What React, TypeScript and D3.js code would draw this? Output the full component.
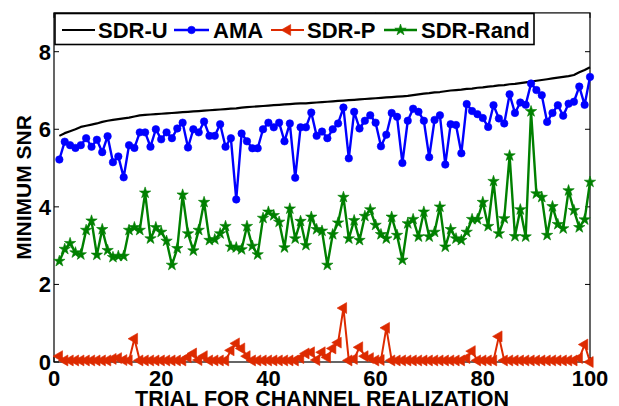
import React from "react";
import * as d3 from "d3";

const trials: number[] = d3.range(1, 101);

const sdrU: number[] = [
  5.83, 5.90, 5.95, 6.00, 6.06, 6.09, 6.12, 6.15, 6.19, 6.22,
  6.24, 6.26, 6.28, 6.30, 6.33, 6.36, 6.37, 6.38, 6.39, 6.40,
  6.41, 6.42, 6.43, 6.44, 6.45, 6.46, 6.47, 6.48, 6.49, 6.50,
  6.51, 6.52, 6.53, 6.54, 6.56, 6.57, 6.58, 6.59, 6.60, 6.61,
  6.62, 6.63, 6.64, 6.65, 6.66, 6.67, 6.67, 6.68, 6.69, 6.70,
  6.71, 6.72, 6.73, 6.74, 6.75, 6.76, 6.77, 6.78, 6.79, 6.80,
  6.81, 6.82, 6.83, 6.84, 6.85, 6.86, 6.88, 6.90, 6.92, 6.93,
  6.95, 6.96, 6.98, 7.00, 7.01, 7.02, 7.04, 7.05, 7.07, 7.08,
  7.10, 7.11, 7.13, 7.14, 7.16, 7.17, 7.19, 7.21, 7.23, 7.25,
  7.27, 7.29, 7.31, 7.33, 7.35, 7.37, 7.40, 7.47, 7.53, 7.60,
];

const ama: number[] = [
  5.22, 5.68, 5.59, 5.52, 5.59, 5.77, 5.55, 5.73, 5.41, 5.82,
  5.15, 5.30, 4.76, 5.59, 5.52, 5.92, 5.92, 5.55, 6.00, 5.74,
  5.92, 5.77, 6.02, 6.17, 5.53, 6.00, 5.92, 6.20, 5.83, 5.83,
  6.13, 5.55, 5.77, 4.19, 5.89, 5.69, 5.51, 5.51, 6.00, 6.17,
  6.05, 6.17, 5.69, 6.15, 4.75, 6.05, 6.05, 6.43, 5.83, 5.94,
  5.77, 6.00, 6.15, 6.56, 5.25, 6.45, 6.02, 6.22, 6.36, 6.17,
  5.56, 5.86, 6.42, 6.32, 5.13, 6.22, 6.53, 6.45, 6.22, 5.28,
  6.24, 6.36, 5.09, 6.13, 6.11, 5.38, 6.65, 6.47, 6.39, 6.29,
  6.06, 6.62, 6.28, 6.15, 6.90, 6.42, 6.69, 6.63, 7.18, 7.01,
  6.88, 6.19, 6.42, 6.62, 6.35, 6.66, 6.71, 7.10, 6.63, 7.35,
];

const sdrP: number[] = [
  0.15, 0.04, 0.04, 0.04, 0.04, 0.04, 0.04, 0.04, 0.04, 0.04,
  0.08, 0.10, 0.05, 0.04, 0.60, 0.04, 0.04, 0.04, 0.04, 0.04,
  0.04, 0.04, 0.04, 0.04, 0.12, 0.22, 0.05, 0.15, 0.04, 0.04,
  0.04, 0.04, 0.30, 0.48, 0.35, 0.15, 0.04, 0.04, 0.04, 0.04,
  0.04, 0.04, 0.04, 0.04, 0.04, 0.10, 0.22, 0.25, 0.05, 0.25,
  0.12, 0.35, 0.50, 1.39, 0.04, 0.08, 0.38, 0.15, 0.10, 0.04,
  0.05, 0.88, 0.04, 0.04, 0.04, 0.04, 0.04, 0.04, 0.04, 0.04,
  0.04, 0.04, 0.04, 0.04, 0.04, 0.04, 0.10, 0.28, 0.04, 0.04,
  0.04, 0.04, 0.66, 0.04, 0.04, 0.04, 0.04, 0.04, 0.04, 0.04,
  0.04, 0.04, 0.04, 0.04, 0.04, 0.04, 0.04, 0.10, 0.45, 0.00,
];

const sdrRand: number[] = [
  2.60, 2.91, 3.06, 2.82, 2.77, 3.40, 3.64, 2.76, 3.42, 2.88,
  2.70, 2.73, 2.73, 3.40, 3.47, 3.40, 4.36, 3.18, 3.47, 3.35,
  3.12, 2.50, 2.93, 4.31, 3.31, 2.87, 3.40, 4.12, 3.14, 3.16,
  3.31, 3.50, 2.97, 2.95, 2.90, 3.50, 2.99, 2.77, 3.71, 3.87,
  3.78, 3.61, 2.95, 3.95, 3.18, 3.63, 3.01, 3.74, 3.42, 3.38,
  2.50, 3.29, 3.59, 4.25, 3.18, 3.65, 3.14, 3.76, 3.93, 3.53,
  3.29, 3.18, 3.74, 3.27, 2.63, 3.57, 3.68, 3.23, 3.87, 3.23,
  3.35, 4.00, 2.97, 3.42, 3.18, 3.14, 3.35, 3.68, 3.68, 4.12,
  3.50, 4.66, 3.31, 3.70, 5.32, 3.24, 3.93, 3.23, 6.46, 4.34,
  4.25, 3.27, 4.01, 3.55, 3.44, 4.42, 3.91, 3.47, 3.67, 4.64,
];

const xTicks: number[] = [0, 20, 40, 60, 80, 100];
const yTicks: number[] = [0, 2, 4, 6, 8];
const seriesNames: string[] = ["SDR-U", "AMA", "SDR-P", "SDR-Rand"];
const xLabel = "TRIAL FOR CHANNEL REALIZATION";
const yLabel = "MINIMUM SNR";

const W = 619;
const H = 406;
const L = 54;
const R = 590;
const T = 12.9;
const B = 362;
const FONT = "'Liberation Sans', Arial, Helvetica, sans-serif";

type Marker = "none" | "circle" | "triangle" | "star";

export default function App() {
  const x = d3.scaleLinear().domain([0, 100]).range([L, R]);
  const y = d3.scaleLinear().domain([0, 9]).range([B, T]);

  const line = d3
    .line<number>()
    .x((_, i) => x(trials[i]))
    .y((d) => y(d));

  const series: { name: string; data: number[]; color: string; width: number; marker: Marker }[] = [
    { name: seriesNames[0], data: sdrU, color: "#000000", width: 2.2, marker: "none" },
    { name: seriesNames[1], data: ama, color: "#0000ff", width: 2.4, marker: "circle" },
    { name: seriesNames[2], data: sdrP, color: "#dd2a00", width: 2.0, marker: "triangle" },
    { name: seriesNames[3], data: sdrRand, color: "#008000", width: 2.4, marker: "star" },
  ];

  const symPath = (m: Marker) => {
    if (m === "circle") return d3.symbol().type(d3.symbolCircle).size(44)()!;
    if (m === "triangle") return d3.symbol().type(d3.symbolTriangle).size(52)()!;
    if (m === "star") return d3.symbol().type(d3.symbolStar).size(40)()!;
    return "";
  };
  const markerTransform = (m: Marker, cx: number, cy: number) =>
    m === "triangle" ? `translate(${cx},${cy}) rotate(-90)` : `translate(${cx},${cy})`;

  const renderMarker = (m: Marker, color: string, cx: number, cy: number, key: string) => {
    if (m === "none") return null;
    return (
      <path
        key={key}
        d={symPath(m)}
        transform={markerTransform(m, cx, cy)}
        fill={color}
        stroke={color}
        strokeWidth={0.6}
      />
    );
  };

  const legend = [
    { lx0: 62, lx1: 95, tx: 98 },
    { lx0: 174, lx1: 209, tx: 213 },
    { lx0: 271, lx1: 304, tx: 307 },
    { lx0: 384, lx1: 417, tx: 421 },
  ];

  return (
    <svg
      width={W}
      height={H}
      style={{ position: "absolute", left: 0, top: 0, background: "#fff" }}
      fontFamily={FONT}
    >
      <rect x={0} y={0} width={W} height={H} fill="#fff" />
      <rect x={L} y={T} width={R - L} height={B - T} fill="none" stroke="#000" strokeWidth={1.2} />
      {yTicks.map((t) => (
        <g key={"y" + t}>
          <line x1={L} x2={L + 5} y1={y(t)} y2={y(t)} stroke="#000" strokeWidth={1} />
          <line x1={R} x2={R - 5} y1={y(t)} y2={y(t)} stroke="#000" strokeWidth={1} />
          <text x={L - 3} y={y(t) + 8} textAnchor="end" fontSize={22} fontWeight="bold">
            {t}
          </text>
        </g>
      ))}
      {xTicks.map((t) => (
        <g key={"x" + t}>
          <line x1={x(t)} x2={x(t)} y1={B} y2={B - 5} stroke="#000" strokeWidth={1} />
          <line x1={x(t)} x2={x(t)} y1={T} y2={T + 5} stroke="#000" strokeWidth={1} />
          <text x={x(t)} y={386} textAnchor="middle" fontSize={22} fontWeight="bold">
            {t}
          </text>
        </g>
      ))}
      <text x={(L + R) / 2} y={406} textAnchor="middle" fontSize={21.5} fontWeight="bold">
        {xLabel}
      </text>
      <text
        transform={`translate(31,${(T + B) / 2}) rotate(-90)`}
        textAnchor="middle"
        fontSize={21}
        fontWeight="bold"
      >
        {yLabel}
      </text>

      {series.map((s) => (
        <g key={s.name}>
          <path d={line(s.data)!} fill="none" stroke={s.color} strokeWidth={s.width} strokeLinejoin="round" />
          {s.data.map((v, i) => renderMarker(s.marker, s.color, x(trials[i]), y(v), s.name + i))}
        </g>
      ))}

      <rect x={55} y={13.5} width={479} height={31} fill="#fff" stroke="#000" strokeWidth={1.6} />
      {series.map((s, i) => (
        <g key={"leg" + s.name}>
          <line x1={legend[i].lx0} x2={legend[i].lx1} y1={30} y2={30} stroke={s.color} strokeWidth={s.width} />
          {renderMarker(s.marker, s.color, (legend[i].lx0 + legend[i].lx1) / 2, 30, "lm" + i)}
          <text x={legend[i].tx} y={37.5} fontSize={22} fontWeight="bold">
            {s.name}
          </text>
        </g>
      ))}
    </svg>
  );
}
